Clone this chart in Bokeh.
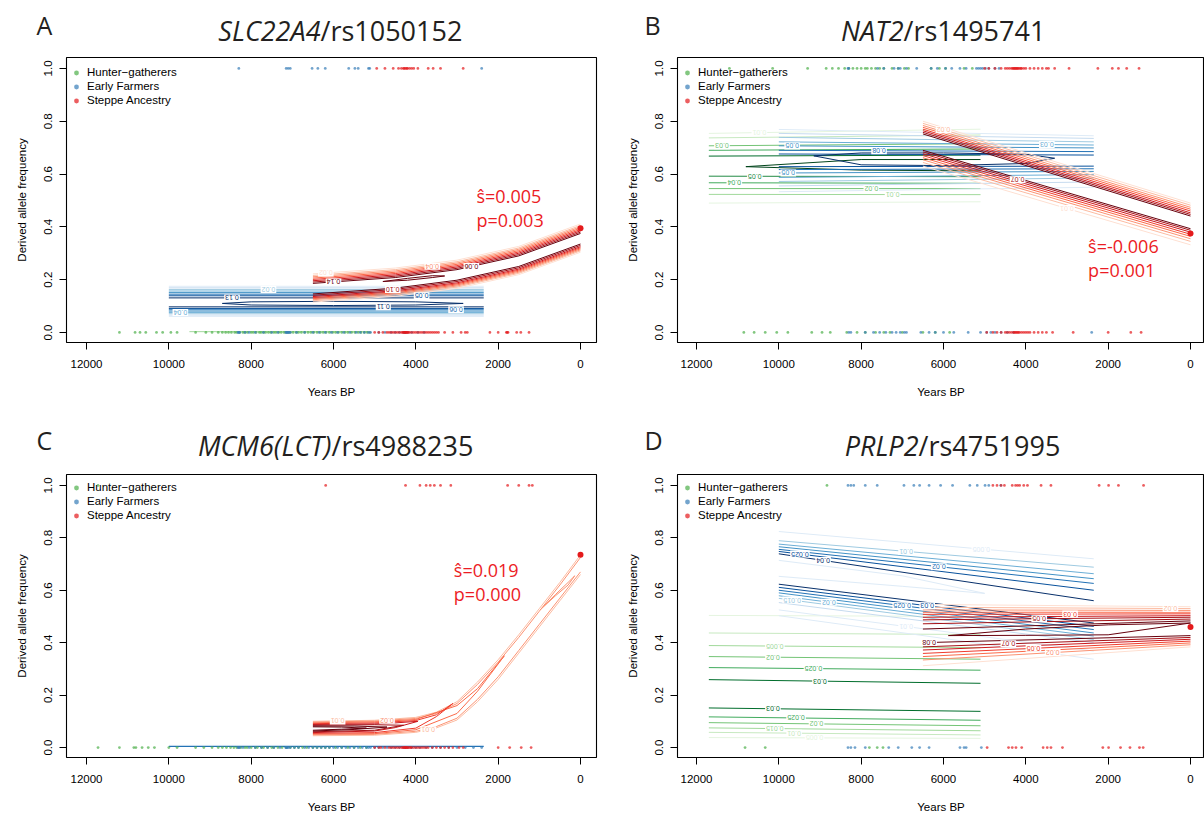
import numpy as np
from bokeh.plotting import figure
from bokeh.layouts import column, row
from bokeh.models import (Range1d, FixedTicker, PrintfTickFormatter, Label, Legend,
                          LegendItem, BasicTickFormatter, ColumnDataSource, Text)
from bokeh.embed import file_html
from bokeh.resources import INLINE

# ---------------- shared categories / styles ----------------
POPS = ["Hunter\u2212gatherers", "Early Farmers", "Steppe Ancestry"]
POP_COLORS = ["#4DAF4A", "#377EB8", "#E41A1C"]
GREENS = ['#f7fcf5', '#e5f5e0', '#c7e9c0', '#a1d99b', '#74c476', '#41ab5d', '#238b45', '#006d2c', '#00441b']
BLUES = ['#f7fbff', '#deebf7', '#c6dbef', '#9ecae1', '#6baed6', '#4292c6', '#2171b5', '#08519c', '#08306b']
REDS = ['#fff5f0', '#fee0d2', '#fcbba1', '#fc9272', '#fb6a4a', '#ef3b2c', '#cb181d', '#a50f15', '#67000d']
X_TICKS = [12000, 10000, 8000, 6000, 4000, 2000, 0]
Y_TICKS = [0.0, 0.2, 0.4, 0.6, 0.8, 1.0]

# ---------------- panel A : SLC22A4/rs1050152 ----------------
A_GENE, A_SNP = "SLC22A4", "/rs1050152"
A_S, A_P = "\u015d=0.005", "p=0.003"
A_PRESENT = 0.395
A_HG_0 = [11200, 10820, 10700, 10560, 10300, 10150, 9950, 9800, 9350, 9100, 8950, 8800, 8700, 8620,
          8550, 8480, 8400, 8350, 8280, 8200, 8150, 8090, 8000, 7950, 7880, 7800, 7760, 7700, 7650,
          7580, 7520, 7450, 7400, 7330, 7270, 7200, 7150, 7100, 7050, 6980, 6900, 6850, 6780, 6700,
          6620, 6550, 6480, 6400, 6320, 6250, 6180, 6100, 6020, 5950, 5880, 5800, 5720, 5650, 5560,
          5480, 5400, 5330, 5250, 5180, 5120]
A_HG_1 = []
A_EF_0 = [8320, 8300, 8280, 8150, 8050, 7900, 7700, 7500, 7350, 7160, 7140, 7120, 7100, 7080, 7050,
          6900, 6700, 6500, 6350, 6200, 6050, 5900, 5750, 5600, 5450, 5350, 5250, 5150, 5100, 4900,
          4750, 4600, 4500, 4400, 4300, 4280, 4250, 4200, 4100, 3950, 3800]
A_EF_1 = [8300, 7150, 7100, 7050, 6520, 6380, 6200, 5630, 5480, 5400, 5150, 5120, 2400]
A_ST_0 = [5000, 4900, 4800, 4700, 4650, 4600, 4550, 4500, 4450, 4400, 4350, 4320, 4300, 4280, 4260,
          4250, 4240, 4220, 4200, 4180, 4150, 4100, 4050, 4000, 3950, 3900, 3850, 3800, 3750, 3700,
          3650, 3600, 3550, 3500, 3450, 3300, 3100, 2900, 2800, 2750, 2200, 2000, 1800, 1780, 1760,
          1550, 1450, 1250]
A_ST_1 = [4950, 4750, 4550, 4420, 4350, 4300, 4280, 4250, 4220, 4200, 4150, 4100, 4050, 3950, 3700,
          3580, 3400, 2850]
# likelihood contours (years knots, frequency per contour line, contour level)
A_HG_C_YEARS = [9500, 5150]
A_HG_C_FREQS = [[0.003, 0.003]]
A_HG_C_LEVELS = [3]
A_EF_C_YEARS = [10000, 2350]
A_EF_C_FREQS = [[0.175, 0.175], [0.169, 0.169], [0.163, 0.163], [0.157, 0.157], [0.151, 0.151],
                [0.145, 0.145], [0.139, 0.139], [0.131, 0.131], [0.097, 0.097], [0.091, 0.091],
                [0.086, 0.086], [0.081, 0.081], [0.076, 0.076], [0.071, 0.071], [0.066, 0.066],
                [0.061, 0.061]]
A_EF_C_LEVELS = [1, 2, 3, 4, 5, 6, 7, 8, 8, 7, 6, 5, 4, 3, 2, 1]
A_EF_LOOP_YEARS = [8700, 8000, 6000, 4000, 2850, 4000, 6000, 8000, 8700]
A_EF_LOOP_FREQS = [0.110, 0.116, 0.118, 0.116, 0.110, 0.104, 0.102, 0.104, 0.110]
A_ST_C_YEARS = [6500, 4500, 3000, 1500, 0]
A_ST_C_FREQS = [[0.222, 0.244, 0.274, 0.326, 0.411], [0.216, 0.238, 0.268, 0.320, 0.405],
                [0.211, 0.233, 0.263, 0.315, 0.400], [0.206, 0.228, 0.258, 0.310, 0.395],
                [0.201, 0.223, 0.253, 0.305, 0.390], [0.196, 0.218, 0.248, 0.300, 0.385],
                [0.191, 0.213, 0.243, 0.295, 0.380], [0.186, 0.208, 0.238, 0.290, 0.375],
                [0.146, 0.168, 0.198, 0.250, 0.335], [0.141, 0.163, 0.193, 0.245, 0.330],
                [0.136, 0.158, 0.188, 0.240, 0.325], [0.132, 0.154, 0.184, 0.236, 0.321],
                [0.128, 0.150, 0.180, 0.232, 0.317], [0.124, 0.146, 0.176, 0.228, 0.313],
                [0.120, 0.142, 0.172, 0.224, 0.309], [0.115, 0.137, 0.167, 0.219, 0.304]]
A_ST_C_LEVELS = [1, 2, 3, 4, 5, 6, 7, 8, 8, 7, 6, 5, 4, 3, 2, 1]
A_ST_LOOP_YEARS = [4800, 4200, 3600, 3300, 3600, 4200, 4800]
A_ST_LOOP_FREQS = [0.193, 0.205, 0.215, 0.214, 0.208, 0.198, 0.193]
# contour labels: text, band index, line index, year
A_LBL_TEXT = ["0.02", "0.13", "0.11", "0.06", "0.04", "0.05", "0.02", "0.14", "0.10", "0.06", "0.04"]
A_LBL_BAND = [1, 1, 1, 1, 1, 1, 3, 3, 3, 3, 3]
A_LBL_LINE = [2, 7, 8, 10, 12, 6, 0, 7, 9, 7, 2]
A_LBL_YEAR = [7580, 8465, 4790, 3023, 9720, 3860, 6186, 6000, 4560, 2650, 3600]

# ---------------- panel B : NAT2/rs1495741 ----------------
B_GENE, B_SNP = "NAT2", "/rs1495741"
B_S, B_P = "\u015d=-0.006", "p=0.001"
B_PRESENT = 0.375
B_HG_0 = [10850, 10600, 10330, 10050, 9780, 9200, 8950, 8750, 8350, 8100, 7900, 7650, 7450, 7300,
          7000, 6500, 6200, 5850]
B_HG_1 = [11200, 10150, 9300, 8850, 8700, 8550, 8400, 8300, 8200, 8100, 8000, 7900, 7850, 7750,
          7650, 7550, 7450, 7250, 7100, 6950, 6850, 6300, 6100, 5950, 5500, 5300]
B_EF_0 = [8300, 8250, 7900, 7700, 7550, 7400, 7250, 7150, 7050, 6950, 6900, 6550, 6350, 6200, 6000,
          5750, 5400, 5100, 4950, 4850, 4750, 4600, 4450, 4300, 2400]
B_EF_1 = [8320, 8300, 7600, 7450, 7200, 7100, 7050, 6900, 6650, 6300, 6150, 5950, 5800, 5600, 5450,
          5200, 5150, 5100, 5050, 4980, 4900, 4750, 4650]
B_ST_0 = [4950, 4800, 4700, 4600, 4500, 4450, 4400, 4350, 4300, 4280, 4250, 4230, 4200, 4180, 4150,
          4100, 4050, 4000, 3950, 3900, 3800, 3700, 3600, 3500, 3350, 2850, 2000, 1450, 1200]
B_ST_1 = [5000, 4900, 4750, 4600, 4500, 4450, 4400, 4350, 4320, 4300, 4280, 4260, 4240, 4220, 4200,
          4180, 4150, 4120, 4100, 4050, 4000, 3900, 3800, 3700, 3600, 3500, 3450, 3300, 2950, 2250,
          1900, 1750, 1550, 1250]
B_HG_C_YEARS = [11700, 5100]
B_HG_C_FREQS = [[0.754, 0.770], [0.737, 0.748], [0.707, 0.715], [0.690, 0.695], [0.668, 0.672],
                [0.592, 0.590], [0.567, 0.565], [0.545, 0.545], [0.523, 0.522], [0.490, 0.495]]
B_HG_C_LEVELS = [1, 2, 4, 5, 7, 6, 5, 4, 3, 1]
B_HG_LOOP_YEARS = [5100, 8000, 10800, 8000, 5100]
B_HG_LOOP_FREQS = [0.655, 0.655, 0.628, 0.615, 0.612]
B_EF_C_YEARS = [10000, 2350]
B_EF_C_FREQS = [[0.769, 0.745], [0.754, 0.735], [0.739, 0.722], [0.722, 0.710], [0.707, 0.699],
                [0.690, 0.685], [0.676, 0.672], [0.628, 0.630], [0.617, 0.620], [0.604, 0.610],
                [0.587, 0.598], [0.572, 0.585], [0.555, 0.570], [0.533, 0.550]]
B_EF_C_LEVELS = [1, 2, 3, 4, 5, 6, 7, 7, 6, 5, 4, 3, 2, 1]
B_EF_LOOP_YEARS = [9150, 8000, 6000, 4000, 3300, 4000, 6000, 8000, 9150]
B_EF_LOOP_FREQS = [0.669, 0.68, 0.68, 0.675, 0.66, 0.64, 0.632, 0.635, 0.669]
B_ST_C_YEARS = [6500, 0]
B_ST_C_FREQS = [[0.800, 0.490], [0.792, 0.482], [0.784, 0.474], [0.777, 0.467], [0.770, 0.460],
                [0.764, 0.453], [0.758, 0.447], [0.752, 0.441], [0.690, 0.393], [0.684, 0.387],
                [0.677, 0.380], [0.670, 0.372], [0.662, 0.364], [0.654, 0.355], [0.644, 0.345],
                [0.630, 0.332]]
B_ST_C_LEVELS = [1, 2, 3, 4, 5, 6, 7, 8, 8, 7, 6, 5, 4, 3, 2, 1]
B_LBL_TEXT = ["0.01", "0.03", "0.05", "0.04", "0.02", "0.01", "0.05", "0.08", "0.05", "0.03",
              "0.02", "0.07", "0.01"]
B_LBL_BAND = [0, 0, 0, 0, 0, 0, 2, 2, 2, 2, 4, 4, 4]
B_LBL_LINE = [0, 2, 5, 6, 7, 8, 4, 5, 9, 3, 1, 9, 15]
B_LBL_YEAR = [10472, 11381, 10584, 11081, 7753, 7237, 9675, 7565, 9770, 3490, 6000, 4200, 3000]

# ---------------- panel C : MCM6(LCT)/rs4988235 ----------------
C_GENE, C_SNP = "MCM6(LCT)", "/rs4988235"
C_S, C_P = "\u015d=0.019", "p=0.000"
C_PRESENT = 0.735
C_HG_0 = [11720, 11200, 10850, 10800, 10650, 10500, 10350, 10000, 9800, 9350, 9150, 8950, 8800,
          8700, 8600, 8500, 8420, 8350, 8250, 8150, 8100, 8000, 7900, 7850, 7750, 7700, 7600, 7500,
          7450, 7350, 7250, 7150, 7050, 6950, 6850, 6750, 6650, 6500, 6400, 6300, 6200, 6100, 5950,
          5800, 5650, 5500, 5350, 5200]
C_HG_1 = [11720]
C_EF_0 = [8320, 8300, 8280, 8200, 8050, 7900, 7750, 7600, 7450, 7300, 7160, 7140, 7120, 7100, 7050,
          6950, 6850, 6700, 6600, 6500, 6400, 6300, 6200, 6100, 6000, 5900, 5800, 5700, 5600, 5500,
          5400, 5300, 5200, 5150, 5100, 5000, 4900, 4800, 4700, 4600, 4500, 4400, 4300, 4250, 4200,
          4100, 4000, 3900, 3750, 3600, 3400, 3200, 3000, 2800, 2600, 2400]
C_EF_1 = []
C_ST_0 = [5000, 4900, 4850, 4750, 4650, 4600, 4550, 4500, 4450, 4400, 4350, 4320, 4300, 4280, 4260,
          4250, 4240, 4220, 4200, 4180, 4150, 4120, 4100, 4050, 4000, 3950, 3900, 3850, 3800, 3750,
          3700, 3600, 3500, 3400, 3300, 3200, 3100, 2950, 2850, 2000, 1720, 1440, 1200]
C_ST_1 = [6190, 4250, 3900, 3750, 3650, 3550, 3400, 3150, 1770, 1500, 1250, 1170]
C_HG_C_YEARS = [9500, 5100]
C_HG_C_FREQS = [[0.004, 0.004]]
C_HG_C_LEVELS = [2]
C_EF_C_YEARS = [10000, 2350]
C_EF_C_FREQS = [[0.008, 0.008], [0.004, 0.004]]
C_EF_C_LEVELS = [2, 6]
C_ST_C_YEARS = [
    [6500, 5000, 4000, 3500, 3000, 2500, 2000, 1500, 1000, 500, 0],
    [6500, 5000, 4000, 3500, 3000, 2500, 2000, 1500, 1000, 500, 0],
    [6500, 5000, 4000, 3500, 3000, 2500, 2000, 1500, 1000, 500, 0],
    [6500, 5000, 4000, 3500, 3000, 2500, 2000, 1500, 1000, 500, 0],
    [6500, 5000, 4000, 3000, 2500, 1850, 2500, 3000, 4000, 5000, 6500],
    [6500, 5000, 4000, 3500, 3100, 3500, 4000, 5000, 6500],
    [6500, 5000, 4500, 3950, 4500, 5000, 6500],
    [6500, 5000, 4300, 5000, 6500],
    [6500, 5500, 4700, 5500, 6500],
    [6500, 5800, 5200, 5800, 6500],
    [980, 600, 300, 140, 300, 600, 980],
]
C_ST_C_FREQS = [
    [0.100, 0.104, 0.115, 0.135, 0.175, 0.250, 0.335, 0.430, 0.530, 0.630, 0.735],
    [0.097, 0.101, 0.111, 0.130, 0.168, 0.241, 0.326, 0.420, 0.520, 0.620, 0.725],
    [0.048, 0.050, 0.062, 0.080, 0.112, 0.184, 0.270, 0.370, 0.470, 0.570, 0.670],
    [0.045, 0.047, 0.058, 0.075, 0.105, 0.175, 0.260, 0.360, 0.460, 0.560, 0.660],
    [0.094, 0.098, 0.107, 0.160, 0.225, 0.350, 0.215, 0.130, 0.068, 0.053, 0.051],
    [0.091, 0.094, 0.103, 0.125, 0.168, 0.118, 0.074, 0.057, 0.054],
    [0.088, 0.090, 0.094, 0.100, 0.076, 0.063, 0.057],
    [0.085, 0.087, 0.085, 0.066, 0.060],
    [0.082, 0.082, 0.078, 0.069, 0.063],
    [0.079, 0.078, 0.074, 0.070, 0.066],
    [0.525, 0.580, 0.620, 0.655, 0.630, 0.585, 0.525],
]
C_ST_C_LEVELS = [2, 3, 3, 2, 4, 5, 6, 7, 8, 8, 3]
C_LBL_TEXT = ["0.01", "0.02", "0.01"]
C_LBL_BAND = [2, 2, 2]
C_LBL_LINE = [0, 1, 3]
C_LBL_YEAR = [5900, 4700, 3700]

# ---------------- panel D : PRLP2/rs4751995 ----------------
D_GENE, D_SNP = "PRLP2", "/rs4751995"
D_PRESENT = 0.46
D_HG_0 = [10820, 10330, 7800, 7610, 7470]
D_HG_1 = [8830]
D_EF_0 = [8320, 8250, 8150, 7900, 7330, 7100, 6770, 6580, 6350, 5600, 5500, 5450, 5080]
D_EF_1 = [8320, 8250, 8180, 7900, 7610, 6960, 6720, 6580, 6350, 6070, 5780, 5360, 5180, 4990, 4900,
          4610]
D_ST_0 = [4940, 4420, 4330, 4240, 4100, 3580, 3480, 3390, 3110, 2130, 1990, 1700, 1470, 1240, 1150]
D_ST_1 = [4800, 4700, 4600, 4520, 4330, 4250, 4200, 4150, 4050, 3960, 3630, 3390, 2220, 1990, 1750,
          1140]
D_HG_C_YEARS = [11700, 5100]
D_HG_C_FREQS = [[0.504, 0.500], [0.437, 0.431], [0.389, 0.381], [0.347, 0.337], [0.305, 0.295],
                [0.259, 0.245], [0.151, 0.138], [0.117, 0.104], [0.095, 0.083], [0.075, 0.064],
                [0.058, 0.048], [0.038, 0.035]]
D_HG_C_LEVELS = [1, 2, 3, 4, 5, 7, 7, 5, 4, 3, 2, 1]
D_EF_C_YEARS = [10000, 2350]
D_EF_C_FREQS = [[0.824, 0.720], [0.789, 0.688], [0.776, 0.663], [0.766, 0.644], [0.756, 0.626],
                [0.748, 0.600], [0.739, 0.560], [0.623, 0.475], [0.611, 0.462], [0.600, 0.450],
                [0.590, 0.437], [0.579, 0.425], [0.569, 0.412], [0.553, 0.400], [0.525, 0.368],
                [0.503, 0.337]]
D_EF_C_LEVELS = [1, 3, 4, 5, 6, 7, 8, 8, 7, 6, 5, 4, 3, 2, 1, 1]
D_EF_LOOP_YEARS = [10000, 7000, 5000, 7000, 10000]
D_EF_LOOP_FREQS = [0.714, 0.655, 0.588, 0.615, 0.653]
D_ST_C_YEARS = [6500, 0]
D_ST_C_FREQS = [[0.546, 0.537], [0.535, 0.530], [0.525, 0.523], [0.516, 0.516], [0.508, 0.510],
                [0.497, 0.503], [0.487, 0.497], [0.472, 0.490], [0.452, 0.483], [0.400, 0.427],
                [0.384, 0.420], [0.372, 0.413], [0.359, 0.406], [0.347, 0.399], [0.334, 0.392],
                [0.312, 0.384]]
D_ST_C_LEVELS = [1, 2, 3, 4, 5, 6, 7, 7, 8, 8, 7, 6, 5, 4, 3, 1]
D_ST_LOOP_YEARS = [5880, 4000, 2000, 0, 2000, 4000, 5880]
D_ST_LOOP_FREQS = [0.427, 0.452, 0.468, 0.475, 0.430, 0.428, 0.427]
D_LBL_TEXT = ["0.005", "0.02", "0.025", "0.03", "0.03", "0.025", "0.02", "0.015", "0.01", "0.005",
              "0.025", "0.04", "0.01", "0.005", "0.02", "0.015", "0.02", "0.025", "0.03", "0.01",
              "0.02", "0.03", "0.05", "0.08", "0.07", "0.05", "0.02"]
D_LBL_BAND = [0, 0, 0, 0, 0, 0, 0, 0, 0, 0,
              1, 1, 1, 1, 1, 1, 1, 1, 1, 1,
              3, 3, 3, 3, 3, 3, 3]
D_LBL_LINE = [2, 3, 4, 5, 6, 7, 8, 9, 10, 11,
              5, 6, 1, 0, 4, 12, 11, 9, 8, 14,
              1, 4, 6, 9, 10, 12, 14]
D_LBL_YEAR = [10097, 10143, 9159, 9000, 10143, 9581, 9084, 10097, 9628, 9131,
              9487, 8925, 6909, 5081, 6112, 9675, 8784, 7003, 6394, 6909,
              487, 2925, 3675, 6347, 4425, 3815, 3347]

AXIS_FONT = "Liberation Sans"
TITLE_FONT = "Open Sans"
ANNOT_RED = "#EC1C24"
TITLE_COLOR = "#231F20"
HAS_TEXT_BG = "background_fill_color" in Text.properties()


def add_contours(p, years, freqs, levels, palette):
    xs, ys, cs = [], [], []
    for i, f in enumerate(freqs):
        yr = years[i] if isinstance(years[0], list) else years
        xs.append(yr)
        ys.append(f)
        cs.append(palette[levels[i]])
    src = ColumnDataSource(dict(xs=xs, ys=ys, c=cs))
    p.multi_line(xs="xs", ys="ys", line_color="c", line_width=1.0, source=src)


def add_contour_labels(p, bands, texts, band_idx, line_idx, years):
    """Place each level label on its contour line (interpolated at the given year)."""
    lx, ly, lc = [], [], []
    for b, l, yr in zip(band_idx, line_idx, years):
        kn_years, freqs, levels, palette = bands[b]
        kn = kn_years[l] if isinstance(kn_years[0], list) else kn_years
        xs = np.array(kn, dtype=float)[::-1]
        ys = np.array(freqs[l], dtype=float)[::-1]
        lx.append(yr)
        ly.append(float(np.interp(yr, xs, ys)))
        lc.append(palette[levels[l]])
    src = ColumnDataSource(dict(x=lx, y=ly, t=texts, c=lc))
    kw = dict(x="x", y="y", text="t", text_color="c", angle=np.pi, text_font_size="7px",
              text_font={"value": AXIS_FONT}, text_align="center", text_baseline="middle",
              source=src)
    if HAS_TEXT_BG:
        kw.update(background_fill_color="white", padding=1)
    p.text(**kw)


def make_title(width, height, letter, letter_x, letter_y, gene, snp, split_x, title_y):
    """Header strip above a panel: pixel coordinates inside its own frame (y up)."""
    t = figure(width=width, height=height, x_range=Range1d(0, width), y_range=Range1d(0, height),
               output_backend="svg", toolbar_location=None, x_axis_type=None, y_axis_type=None,
               min_border=0, min_border_left=0, min_border_right=0, min_border_top=0,
               min_border_bottom=0, outline_line_color=None)
    t.grid.visible = False
    t.add_layout(Label(x=letter_x, y=letter_y, text=letter, text_font=TITLE_FONT,
                       text_font_size="25px", text_color=TITLE_COLOR, text_align="left",
                       text_baseline="middle"))
    t.add_layout(Label(x=split_x, y=title_y, text=gene, text_font=TITLE_FONT,
                       text_font_size="27px", text_font_style="italic", text_color=TITLE_COLOR,
                       text_align="right", text_baseline="middle"))
    t.add_layout(Label(x=split_x, y=title_y, text=snp, text_font=TITLE_FONT,
                       text_font_size="27px", text_color=TITLE_COLOR, text_align="left",
                       text_baseline="middle"))
    return t


def make_panel(x_left, x_right, width, height, bl, br, bt, bb, bands, points, present, annot,
               labels, legend_loc):
    p = figure(width=width, height=height, x_range=Range1d(x_left, x_right),
               y_range=Range1d(-0.038, 1.0415), output_backend="svg", toolbar_location=None,
               min_border_left=bl, min_border_right=br, min_border_top=bt, min_border_bottom=bb,
               background_fill_color="white", border_fill_color="white")
    p.grid.visible = False
    p.outline_line_color = "black"
    p.outline_line_width = 1.1
    for ax in (p.xaxis[0], p.yaxis[0]):
        ax.axis_line_color = None
        ax.major_tick_in = 0
        ax.major_tick_out = 7
        ax.major_tick_line_color = "black"
        ax.minor_tick_line_color = None
        ax.major_label_text_font = AXIS_FONT
        ax.major_label_text_font_size = "11.5px"
        ax.major_label_text_color = "black"
        ax.axis_label_text_font = AXIS_FONT
        ax.axis_label_text_font_size = "11.5px"
        ax.axis_label_text_font_style = "normal"
        ax.axis_label_text_color = "black"
    p.xaxis.ticker = FixedTicker(ticks=X_TICKS)
    p.xaxis.formatter = BasicTickFormatter(use_scientific=False)
    p.xaxis.major_label_standoff = 10
    p.xaxis.axis_label = "Years BP"
    p.xaxis.axis_label_standoff = 15
    p.yaxis.ticker = FixedTicker(ticks=Y_TICKS)
    p.yaxis.formatter = PrintfTickFormatter(format="%.1f")
    p.yaxis.major_label_orientation = "vertical"
    p.yaxis.major_label_standoff = 7
    p.yaxis.axis_label = "Derived allele frequency"
    p.yaxis.axis_label_standoff = 14

    for years, freqs, levels, palette in bands:
        add_contours(p, years, freqs, levels, palette)
    if labels is not None:
        add_contour_labels(p, bands, *labels)

    legend_renderers = []
    for k, (zeros, ones) in enumerate(points):
        r0 = p.scatter(zeros, [0.0] * len(zeros), size=2.8, fill_color=POP_COLORS[k],
                       fill_alpha=0.7, line_color=None)
        p.scatter(ones, [1.0] * len(ones), size=2.8, fill_color=POP_COLORS[k],
                  fill_alpha=0.7, line_color=None)
        legend_renderers.append(r0)

    p.scatter([0], [present], size=6, fill_color=POP_COLORS[2], line_color=None)

    items = [LegendItem(label=name, renderers=[r]) for name, r in zip(POPS, legend_renderers)]
    leg = Legend(items=items, location=legend_loc, padding=0, margin=0, spacing=1,
                 glyph_width=12, glyph_height=13, label_height=13, label_standoff=5,
                 label_text_font=AXIS_FONT, label_text_font_size="11.5px",
                 label_text_color="black",
                 background_fill_alpha=0, border_line_alpha=0)
    p.add_layout(leg)

    if annot is not None:
        ax_, y1, y2, s_txt, p_txt = annot
        for yy, tt in ((y1, s_txt), (y2, p_txt)):
            p.add_layout(Label(x=ax_, y=yy, text=tt, text_font=TITLE_FONT, text_font_size="18px",
                               text_color=ANNOT_RED, text_align="left", text_baseline="middle"))
    return p


LEG_LOC = (4, 235.5)

A_BANDS = [(A_HG_C_YEARS, A_HG_C_FREQS, A_HG_C_LEVELS, GREENS),
           (A_EF_C_YEARS, A_EF_C_FREQS, A_EF_C_LEVELS, BLUES),
           (A_EF_LOOP_YEARS, [A_EF_LOOP_FREQS], [8], BLUES),
           (A_ST_C_YEARS, A_ST_C_FREQS, A_ST_C_LEVELS, REDS),
           (A_ST_LOOP_YEARS, [A_ST_LOOP_FREQS], [8], REDS)]
B_BANDS = [(B_HG_C_YEARS, B_HG_C_FREQS, B_HG_C_LEVELS, GREENS),
           (B_HG_LOOP_YEARS, [B_HG_LOOP_FREQS], [8], GREENS),
           (B_EF_C_YEARS, B_EF_C_FREQS, B_EF_C_LEVELS, BLUES),
           (B_EF_LOOP_YEARS, [B_EF_LOOP_FREQS], [8], BLUES),
           (B_ST_C_YEARS, B_ST_C_FREQS, B_ST_C_LEVELS, REDS)]
C_BANDS = [(C_HG_C_YEARS, C_HG_C_FREQS, C_HG_C_LEVELS, GREENS),
           (C_EF_C_YEARS, C_EF_C_FREQS, C_EF_C_LEVELS, BLUES),
           (C_ST_C_YEARS, C_ST_C_FREQS, C_ST_C_LEVELS, REDS)]
D_BANDS = [(D_HG_C_YEARS, D_HG_C_FREQS, D_HG_C_LEVELS, GREENS),
           (D_EF_C_YEARS, D_EF_C_FREQS, D_EF_C_LEVELS, BLUES),
           (D_EF_LOOP_YEARS, [D_EF_LOOP_FREQS], [1], BLUES),
           (D_ST_C_YEARS, D_ST_C_FREQS, D_ST_C_LEVELS, REDS),
           (D_ST_LOOP_YEARS, [D_ST_LOOP_FREQS], [8], REDS)]

tA = make_title(600, 55, "A", 36, 31, A_GENE, A_SNP, 320, 25)
pA = make_panel(12486, -389, 600, 356, 66, 4, 2, 69, A_BANDS,
                [(A_HG_0, A_HG_1), (A_EF_0, A_EF_1), (A_ST_0, A_ST_1)], A_PRESENT,
                (2526, 0.517, 0.425, A_S, A_P),
                (A_LBL_TEXT, A_LBL_BAND, A_LBL_LINE, A_LBL_YEAR), LEG_LOC)

tB = make_title(604, 55, "B", 44, 31, B_GENE, B_SNP, 303, 25)
pB = make_panel(12461, -340, 604, 356, 77, 0, 2, 69, B_BANDS,
                [(B_HG_0, B_HG_1), (B_EF_0, B_EF_1), (B_ST_0, B_ST_1)], B_PRESENT,
                (2487, 0.328, 0.236, B_S, B_P),
                (B_LBL_TEXT, B_LBL_BAND, B_LBL_LINE, B_LBL_YEAR), LEG_LOC)

tC = make_title(600, 61, "C", 36, 33, C_GENE, C_SNP, 331, 27)
pC = make_panel(12486, -389, 600, 343, 66, 4, 2, 56, C_BANDS,
                [(C_HG_0, C_HG_1), (C_EF_0, C_EF_1), (C_ST_0, C_ST_1)], C_PRESENT,
                (3077, 0.676, 0.584, C_S, C_P),
                (C_LBL_TEXT, C_LBL_BAND, C_LBL_LINE, C_LBL_YEAR), LEG_LOC)

tD = make_title(604, 61, "D", 44, 33, D_GENE, D_SNP, 318, 27)
pD = make_panel(12461, -340, 604, 343, 77, 0, 2, 56, D_BANDS,
                [(D_HG_0, D_HG_1), (D_EF_0, D_EF_1), (D_ST_0, D_ST_1)], D_PRESENT,
                None, (D_LBL_TEXT, D_LBL_BAND, D_LBL_LINE, D_LBL_YEAR), LEG_LOC)

layout = column(row(tA, tB), row(pA, pB), row(tC, tD), row(pC, pD))
open("out.html", "w").write(file_html(layout, INLINE))
